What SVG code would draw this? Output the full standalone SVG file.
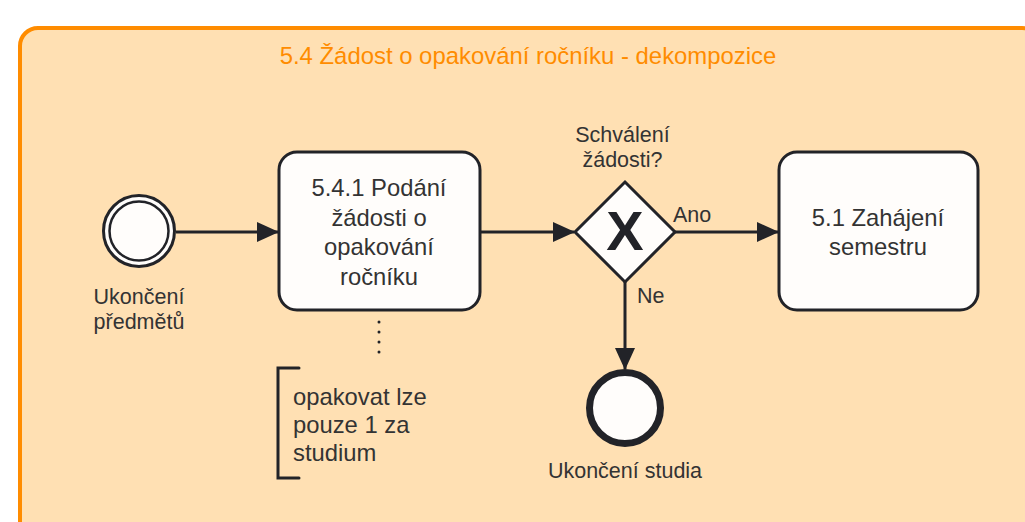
<svg xmlns="http://www.w3.org/2000/svg" width="1025" height="522" viewBox="0 0 1025 522">
<style>
text{font-family:"Liberation Sans",Arial,sans-serif;fill:#333333;font-size:21.5px}
.t{text-anchor:middle}
.big{font-size:23.8px}
.title{fill:#ff8c00;font-size:23.9px;text-anchor:middle}
.task{fill:#fffdfb;stroke:#222328;stroke-width:3}
.flow{fill:none;stroke:#222328;stroke-width:3}
</style>
<defs>
<marker id="arr" markerWidth="22" markerHeight="20" refX="21" refY="10" orient="auto" markerUnits="userSpaceOnUse">
<path d="M0,0 L22,10 L0,20 Z" fill="#222328"/>
</marker>
</defs>
<rect width="1025" height="522" fill="#ffffff"/>
<g id="container">
<rect x="20" y="28" width="1020" height="520" rx="18" fill="#ffe0b3" stroke="#ff8c00" stroke-width="4"/>
<text class="title" x="528" y="64">5.4 Žádost o opakování ročníku - dekompozice</text>
</g>
<g id="connectors">
<line class="flow" x1="176" y1="232" x2="278" y2="232" marker-end="url(#arr)"/>
<line class="flow" x1="480" y1="232" x2="574" y2="232" marker-end="url(#arr)"/>
<line class="flow" x1="675" y1="232" x2="778" y2="232" marker-end="url(#arr)"/>
<line class="flow" x1="625" y1="282" x2="625" y2="369" marker-end="url(#arr)"/>
<line x1="379" y1="322" x2="379" y2="362" stroke="#222328" stroke-width="3" stroke-linecap="round" stroke-dasharray="0 10"/>
<text x="673" y="222">Ano</text>
<text x="637" y="303">Ne</text>
</g>
<g id="start">
<circle cx="139" cy="231" r="35.5" fill="#fffdfb" stroke="#222328" stroke-width="3"/>
<circle cx="139" cy="231" r="29.5" fill="none" stroke="#222328" stroke-width="2.5"/>
<text class="t" x="139" y="304">Ukončení</text>
<text class="t" x="139" y="329">předmětů</text>
</g>
<g id="task1">
<rect class="task" x="279" y="152" width="201" height="158" rx="18"/>
<text class="t big" x="379" y="196">5.4.1 Podání</text>
<text class="t big" x="379" y="225.5">žádosti o</text>
<text class="t big" x="379" y="255">opakování</text>
<text class="t big" x="379" y="284.5">ročníku</text>
</g>
<g id="gateway">
<polygon points="625,182 675,232 625,282 575,232" fill="#fffdfb" stroke="#222328" stroke-width="3"/>
<text class="t" x="625" y="250" style="font-size:56px;font-weight:bold;fill:#222328">X</text>
<text class="t" x="622.5" y="142">Schválení</text>
<text class="t" x="622.5" y="167">žádosti?</text>
</g>
<g id="task2">
<rect class="task" x="779" y="152" width="199" height="158" rx="18"/>
<text class="t big" x="878" y="225.5">5.1 Zahájení</text>
<text class="t big" x="878" y="254.5">semestru</text>
</g>
<g id="end">
<circle cx="625" cy="408" r="35.5" fill="#fffdfb" stroke="#222328" stroke-width="7"/>
<text class="t" x="625" y="477.5">Ukončení studia</text>
</g>
<g id="annotation">
<path d="M299,368 H278 V478 H299" fill="none" stroke="#222328" stroke-width="3" stroke-linecap="round"/>
<text class="big" x="293" y="404.5">opakovat lze</text>
<text class="big" x="293" y="432.5">pouze 1 za</text>
<text class="big" x="293" y="460.5">studium</text>
</g>
</svg>
